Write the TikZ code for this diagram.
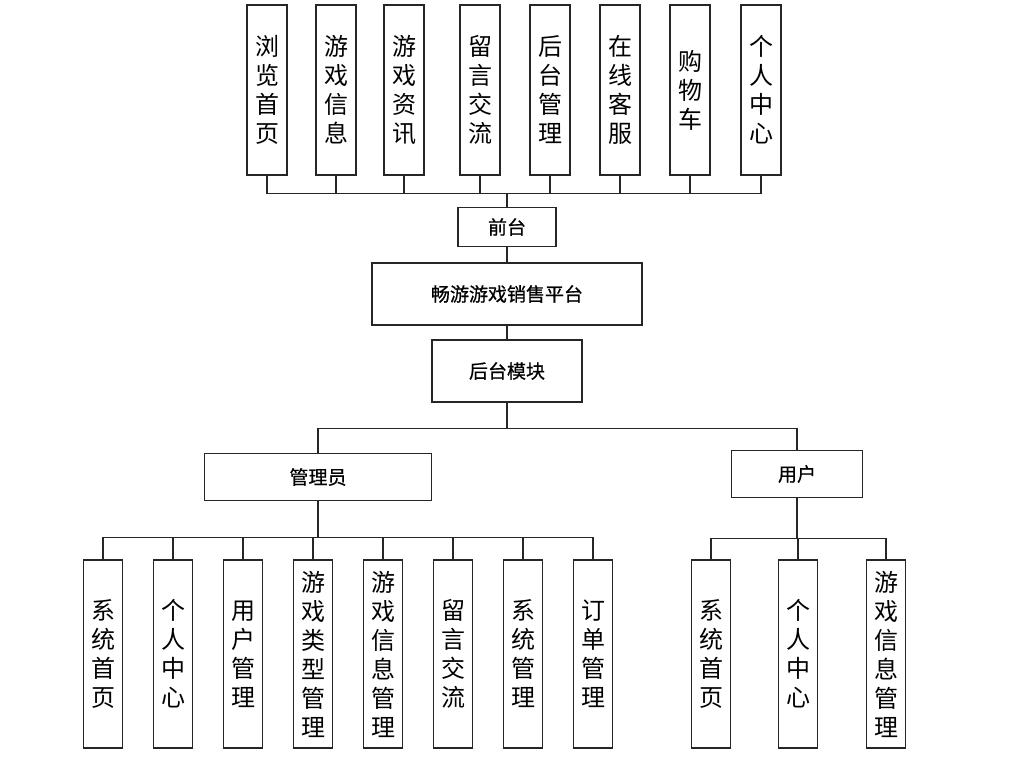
\documentclass[tikz,border=0pt]{standalone}
\usepackage{fontspec}
\setmainfont{Noto Sans CJK SC}
\newfontfamily\cjkmid[FakeBold=0.7]{Noto Sans CJK SC}
\usepackage{tikz}
\usetikzlibrary{positioning,calc}

\begin{document}
\begin{tikzpicture}[
  x=1pt, y=-1pt,
  line width=1.1pt,
  hbox/.style={draw=black!85, line width=1.1pt, fill=white, inner sep=0pt,
               font=\cjkmid\fontsize{19}{22}\selectfont},
  vbox/.style={draw=black!85, line width=1.1pt, fill=white, inner sep=0pt,
               align=center, minimum width=39pt, minimum height=188pt,
               font=\fontsize{24}{29}\selectfont},
  tbox/.style={vbox, minimum width=40pt, minimum height=170pt},
  link/.style={draw=black!85, line width=1.1pt},
]
\useasboundingbox (0,0) rectangle (1024,760);

% --- front-end modules ---
\node[tbox] (t1) at (267,90) {浏\\览\\首\\页};
\node[tbox] (t2) at (336,90) {游\\戏\\信\\息};
\node[tbox] (t3) at (404,90) {游\\戏\\资\\讯};
\node[tbox] (t4) at (480,90) {留\\言\\交\\流};
\node[tbox] (t5) at (550,90) {后\\台\\管\\理};
\node[tbox] (t6) at (620,90) {在\\线\\客\\服};
\node[tbox] (t7) at (690,90) {购\\物\\车};
\node[tbox] (t8) at (761,90) {个\\人\\中\\心};

% --- main chain ---
\node[hbox, minimum width=98pt, minimum height=39pt] (front) at (507,227) {前台};
\node[hbox, minimum width=270pt, minimum height=62pt] (platform) at (507,294) {畅游游戏销售平台};
\node[hbox, minimum width=150pt, minimum height=62pt] (back) at (507,371) {后台模块};

% --- roles ---
\node[hbox, minimum width=227pt, minimum height=47pt] (admin) at (318,477) {管理员};
\node[hbox, minimum width=131pt, minimum height=47pt] (user) at (797,474) {用户};

% --- admin modules ---
\node[vbox] (a1) at (103,654) {系\\统\\首\\页};
\node[vbox] (a2) at (173,654) {个\\人\\中\\心};
\node[vbox] (a3) at (243,654) {用\\户\\管\\理};
\node[vbox] (a4) at (313,654) {游\\戏\\类\\型\\管\\理};
\node[vbox] (a5) at (383,654) {游\\戏\\信\\息\\管\\理};
\node[vbox] (a6) at (453,654) {留\\言\\交\\流};
\node[vbox] (a7) at (523,654) {系\\统\\管\\理};
\node[vbox] (a8) at (593,654) {订\\单\\管\\理};

% --- user modules ---
\node[vbox] (u1) at (711,654) {系\\统\\首\\页};
\node[vbox] (u2) at (798,654) {个\\人\\中\\心};
\node[vbox] (u3) at (886,654) {游\\戏\\信\\息\\管\\理};

% --- connectors ---
\foreach \t in {t1,t2,t3,t4,t5,t6,t7,t8} {
  \draw[link] (\t.south) -- ++(0,18) -| (front.north);
}
\draw[link] (front.south) -- (platform.north);
\draw[link] (platform.south) -- (back.north);
\draw[link] (back.south) -- ++(0,26) -| (admin.north);
\draw[link] (back.south) -- ++(0,26) -| (user.north);
\foreach \a in {a1,a2,a3,a4,a5,a6,a7,a8} {
  \draw[link] (admin.south) -- ++(0,36) -| (\a.north);
}
\foreach \u in {u1,u2,u3} {
  \draw[link] (user.south) -- ++(0,40) -| (\u.north);
}

\end{tikzpicture}
\end{document}
